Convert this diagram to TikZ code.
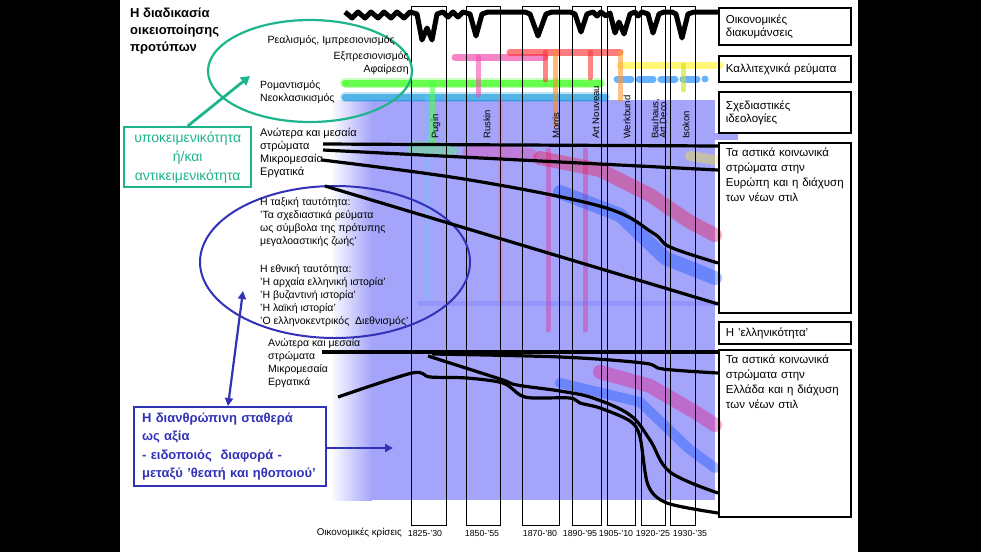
\documentclass[tikz,border=0pt]{standalone}
\usepackage{fontspec}
\setmainfont{Liberation Sans}
\usetikzlibrary{arrows.meta}
\definecolor{lav}{RGB}{164,164,250}
\definecolor{tealgr}{RGB}{30,180,140}
\definecolor{navyb}{RGB}{50,50,185}
\tikzset{
  rbox/.style={draw, line width=1.8pt, anchor=north west, inner sep=0pt, inner xsep=7pt,
    minimum width=132pt, text width=118pt, align=left, font=\fontsize{11.5}{15}\selectfont},
  col/.style={draw, line width=1.4pt},
  stratum/.style={line width=3.2pt, line join=round},
  band/.style={line width=7pt, opacity=.6, line cap=round},
  blob/.style={line width=14pt, opacity=.35, line cap=round, line join=round},
  lbl/.style={anchor=north west, inner sep=0pt, align=left, font=\fontsize{10.5}{13}\selectfont},
  yr/.style={inner sep=0pt, font=\fontsize{8.8}{10}\selectfont},
  vlbl/.style={rotate=90, anchor=west, inner sep=0pt, font=\fontsize{9.5}{10}\selectfont},
}
\newcommand{\tallbox}[2]{\parbox[t][#1][t]{118pt}{#2}}
\begin{document}
\begin{tikzpicture}[x=1pt,y=-1pt]
\useasboundingbox (0,0) rectangle (981,552);
\fill[black] (0,0) rectangle (981,552);
\fill[white] (120,0) rectangle (858,552);

% lavender ground
\fill[left color=white,right color=lav] (330,100) rectangle (372,500);
\fill[lav] (372,100) rectangle (715,500);
\fill[lav] (715,133) rectangle (738,140);

% artistic movements
\draw[band, green!80!lime, line width=10pt, opacity=.25] (345,83) -- (600,83);
\draw[band, green!80!lime] (345,83) -- (600,83);
\draw[band, cyan!80!blue, line width=10pt, opacity=.25] (345,97) -- (605,97);
\draw[band, cyan!80!blue] (345,97) -- (605,97);
\draw[band, magenta!80] (455,57) -- (545,57);
\draw[band, red!85] (510,52) -- (620,52);
\draw[band, yellow!90] (620,65) -- (720,65);
\draw[band, blue!50!cyan, dash pattern=on 14pt off 8pt] (617,79) -- (705,79);
\draw[band, green!70, line width=5pt] (432,83) -- (432,145);
\draw[band, cyan!60, line width=5pt, opacity=.35] (427,97) -- (427,300);
\draw[band, magenta!70, line width=5pt] (478,57) -- (478,95);
\draw[band, magenta!60, line width=5pt, opacity=.3] (500,100) -- (500,300);
\draw[band, red!80, line width=5pt] (545,52) -- (545,80);
\draw[band, orange!90, line width=5pt] (555,52) -- (555,125);
\draw[band, red!80, line width=5pt] (590,52) -- (590,78);
\draw[band, orange!80, line width=5pt] (620,52) -- (620,100);
\draw[band, yellow!80!green, line width=5pt] (683,65) -- (683,90);
\draw[band, magenta!70!red, line width=5pt, opacity=.3] (548,150) -- (548,330);
\draw[band, magenta!70!red, line width=5pt, opacity=.3] (585,150) -- (585,330);
\draw[band, blue!60, line width=5pt, opacity=.25] (420,303) -- (718,303);

% blurred colour masses
\draw[blob, green!70] (415,148) -- (450,150);
\draw[blob, magenta!80] (470,152) -- (530,155);
\draw[blob, red!80!magenta] (540,158) -- (600,170) -- (650,195) -- (690,222) -- (715,235);
\draw[blob, blue!70!cyan] (560,192) -- (620,215) -- (665,258) -- (715,278);
\draw[blob, yellow!90, line width=10pt] (690,156) -- (715,160);
\draw[blob, magenta!80!red] (600,372) -- (650,386) -- (695,412) -- (715,425);
\draw[blob, blue!70!cyan, line width=10pt] (560,383) -- (640,402) -- (688,448) -- (715,468);

% crisis columns
\node[col, minimum width=35pt, minimum height=519pt, inner sep=0pt, anchor=north west] (col1) at (411,6) {};
\node[col, minimum width=34pt, minimum height=519pt, inner sep=0pt, anchor=north west] (col2) at (466,6) {};
\node[col, minimum width=37pt, minimum height=519pt, inner sep=0pt, anchor=north west] (col3) at (522,6) {};
\node[col, minimum width=29pt, minimum height=519pt, inner sep=0pt, anchor=north west] (col4) at (572,6) {};
\node[col, minimum width=28pt, minimum height=519pt, inner sep=0pt, anchor=north west] (col5) at (607,6) {};
\node[col, minimum width=24pt, minimum height=519pt, inner sep=0pt, anchor=north west] (col6) at (641,6) {};
\node[col, minimum width=25pt, minimum height=519pt, inner sep=0pt, anchor=north west] (col7) at (670,6) {};

% designers in the columns
\node[vlbl] (dPugin) at (436,139) {Pugin};
\node[vlbl] (dRuskin) at (487,139) {Ruskin};
\node[vlbl] (dMorris) at (556,139) {Morris};
\node[vlbl] (dNouveau) at (596,139) {Art Nouveau};
\node[vlbl] (dWerk) at (627,139) {Werkbund};
\node[vlbl, align=left] (dBauhaus) at (659,139) {Bauhaus,\\[-2pt]Art Deco};
\node[vlbl] (dIsokon) at (686,139) {Isokon};

% years under the columns
\node[yr] (y1) at (425,533) {1825-'30};
\node[yr] (y2) at (482,533) {1850-'55};
\node[yr] (y3) at (540,533) {1870-'80};
\node[yr] (y4) at (580,533) {1890-'95};
\node[yr] (y5) at (616,533) {1905-'10};
\node[yr] (y6) at (653,533) {1920-'25};
\node[yr] (y7) at (690,533) {1930-'35};
\node[yr, anchor=east, font=\fontsize{9.8}{10}\selectfont] (crisis) at (402,533) {Οικονομικές κρίσεις};

% right hand boxes
\node[rbox, minimum height=37pt] (box1) at (718,7) {Οικονομικές\\[-2pt]διακυμάνσεις};
\node[rbox, minimum height=26pt] (box2) at (718,55) {Καλλιτεχνικά ρεύματα};
\node[rbox, minimum height=41pt] (box3) at (718,91) {Σχεδιαστικές\\[-2pt]ιδεολογίες};
\node[rbox, inner ysep=5pt] (box4) at (718,142) {\tallbox{160pt}{Τα αστικά κοινωνικά\\στρώματα στην\\Ευρώπη και η διάχυση\\των νέων στιλ}};
\node[rbox, minimum height=22pt] (box5) at (718,321) {Η 'ελληνικότητα'};
\node[rbox, inner ysep=5pt] (box6) at (718,349) {\tallbox{157pt}{Τα αστικά κοινωνικά\\στρώματα στην\\Ελλάδα και η διάχυση\\των νέων στιλ}};

% economic fluctuations
\coordinate (w0) at (345,12);
\draw[line width=5pt, line join=round] (w0) -- (352,18) -- (358,12) -- (365,18) -- (371,12) -- (378,18) -- (384,12)
  -- (391,18) -- (397,12) -- (404,18) -- (410,12) -- (417,14) -- (422,40) -- (427,28) -- (432,40) -- (437,14)
  -- (443,12) -- (448,17) -- (453,12) -- (458,17) -- (463,12) -- (470,14) -- (476,36) -- (482,14) -- (488,12)
  -- (525,12) -- (530,14) -- (538,36) -- (546,14) -- (552,12) -- (570,12) -- (575,14) -- (581,32) -- (587,14)
  -- (593,12) -- (597,16) -- (601,12) -- (606,16) -- (610,13) -- (615,33) -- (619,22) -- (624,34) -- (630,14)
  -- (635,12) -- (638,16) -- (642,12) -- (648,14) -- (653,33) -- (659,14) -- (664,12) -- (672,12) -- (676,14)
  -- (682,38) -- (688,14) -- (694,12) -- (box1.west |- 0,12);

% title and the two ellipses
\node[lbl, font=\bfseries\fontsize{13}{17}\selectfont] (title) at (130,8) {Η διαδικασία\\οικειοποίησης\\προτύπων};
\draw[tealgr, line width=2.2pt] (310,71) ellipse [x radius=102, y radius=51];
\coordinate (elT) at (250,76);
\node[lbl, anchor=north east] (mvReal) at (395,35) {Ρεαλισμός, Ιμπρεσιονισμός};
\node[lbl, anchor=north east, align=right] (mvExpr) at (409,51) {Εξπρεσιονισμός\\Αφαίρεση};
\node[lbl] (mvRom) at (260,80) {Ρομαντισμός\\Νεοκλασικισμός};
\node[draw=tealgr, line width=2.4pt, text=tealgr, align=center, inner sep=0pt, minimum width=127pt,
  minimum height=60pt, anchor=north west, font=\fontsize{14}{19}\selectfont] (subj) at (123,126)
  {υποκειμενικότητα\\ή/και\\αντικειμενικότητα};
\draw[tealgr, line width=2.8pt, -{Triangle[length=9pt,width=10pt]}] (subj.north) -- (elT);

\draw[navyb, line width=2pt] (335,262) ellipse [x radius=135, y radius=76];
\coordinate (elB) at (243,291);
\node[lbl] (classid) at (260,197) {Η ταξική ταυτότητα:\\ 'Τα σχεδιαστικά ρεύματα\\ως σύμβολα της πρότυπης\\μεγαλοαστικής ζωής'};
\node[lbl] (natid) at (260,264) {Η εθνική ταυτότητα:\\ 'Η αρχαία ελληνική ιστορία'\\ 'Η βυζαντινή ιστορία'\\ 'Η λαϊκή ιστορία'\\ 'Ο ελληνοκεντρικός\ \ Διεθνισμός'};
\node[draw=navyb, line width=2.2pt, text=navyb, align=left, inner sep=0pt, inner xsep=8pt, text width=176pt,
  minimum height=79pt, anchor=north west, font=\bfseries\fontsize{13}{18.5}\selectfont] (inter) at (133,406)
  {Η διανθρώπινη σταθερά\\ως αξία\\- ειδοποιός\ \ διαφορά -\\μεταξύ 'θεατή και ηθοποιού'};
\draw[navyb, line width=2.2pt, {Triangle[length=8pt,width=8pt]}-{Triangle[length=8pt,width=8pt]}] (elB) -- (inter.north -| 228,0);
\coordinate (inArrow) at (393,448);
\draw[navyb, line width=2.2pt, -{Triangle[length=8pt,width=8pt]}] (inter.east |- inArrow) -- (inArrow);

% social strata, Europe
\node[lbl, font=\fontsize{11}{13}\selectfont] (euUp) at (260,128) {Ανώτερα και μεσαία\\στρώματα\\Μικρομεσαία\\Εργατικά};
\coordinate (e1) at (323,144);
\coordinate (e2) at (323,150);
\coordinate (e3) at (322,160);
\coordinate (e4) at (325,186);
\draw[stratum] (e1) -- (box4.north west |- 0,146);
\draw[stratum] (e2) -- (box4.west |- 0,170);
\draw[stratum] plot[smooth, tension=.6] coordinates {(e3) (470,180) (603,207) (653,233) (670,247) (718,263)};
\draw[stratum] (e4) -- (718,304);

% social strata, Greece
\node[lbl] (grUp) at (268,338) {Ανώτερα και μεσαία\\στρώματα\\Μικρομεσαία\\Εργατικά};
\coordinate (g1) at (322,352);
\coordinate (g2) at (432,354);
\coordinate (g3) at (428,356);
\coordinate (g4) at (338,397);
\draw[stratum] (g1) -- (box6.north west |- 0,352);
\draw[stratum] plot[smooth, tension=.6] coordinates {(g2) (560,357) (643,363) (663,369) (718,373)};
\draw[stratum] plot[smooth, tension=.6] coordinates {(g3) (500,379) (517,385) (560,391) (593,398) (630,415)
  (650,440) (670,472) (718,493)};
\draw[stratum] plot[smooth, tension=.5] coordinates {(g4) (412,373) (430,377) (467,378) (503,383) (520,395)
  (533,398) (570,398) (580,403) (600,408) (630,421) (640,437) (648,485) (667,503) (718,513)};
\end{tikzpicture}
\end{document}
